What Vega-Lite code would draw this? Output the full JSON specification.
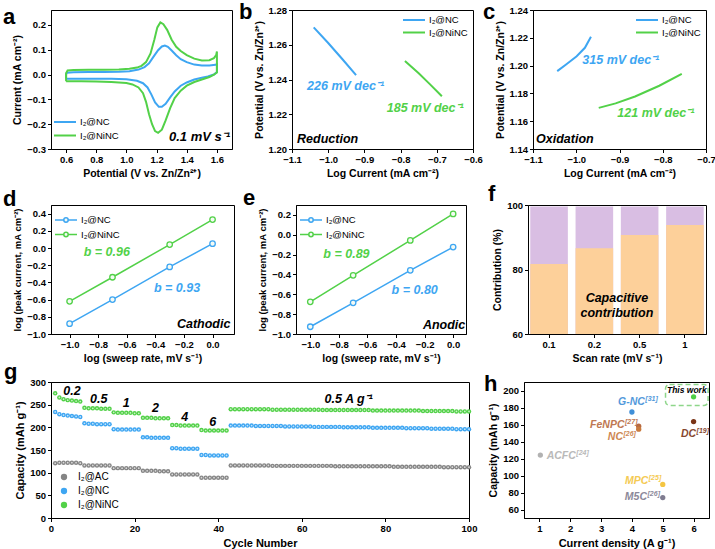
{
"$schema": "https://vega.github.io/schema/vega-lite/v6.json",
"background": "white",
"padding": {"left": 2, "top": 0, "right": 0, "bottom": 0},
"config": {
  "font": "Liberation Sans",
  "view": {"stroke": "black", "strokeWidth": 1},
  "axis": {"grid": false, "domainColor": "black", "tickColor": "black", "labelColor": "black", "titleColor": "black", "labelFontSize": 9.5, "labelFontWeight": "bold", "titleFontSize": 10.5, "titleFontWeight": "bold", "tickSize": 3.5, "labelPadding": 2, "labelFlush": false, "labelOverlap": false, "titlePadding": 4},
  "legend": {"labelFontSize": 9.5, "labelColor": "black", "padding": 0, "rowPadding": 3.5, "symbolStrokeWidth": 2},
  "title": {"anchor": "start", "frame": "group", "fontSize": 22, "fontWeight": "bold", "offset": 0, "baseline": "alphabetic", "color": "black"},
  "text": {"fontStyle": "italic", "fontWeight": "bold", "fontSize": 12.5}
},
"spacing": 3,
"resolve": {"scale": {"color": "independent"}, "legend": {"color": "independent"}},
"vconcat": [
{
"hconcat": [
{
 "title": {"text": "a", "dx": -48, "dy": 23},
 "width": 181, "height": 139,
 "encoding": {
  "x": {"field": "x", "type": "quantitative", "scale": {"domain": [0.5, 1.7], "nice": false, "zero": false}, "axis": {"values": [0.6, 0.8, 1.0, 1.2, 1.4, 1.6], "format": ".1f", "labelOverlap": false, "title": "Potential (V vs. Zn/Zn²⁺)"}},
  "y": {"field": "y", "type": "quantitative", "scale": {"domain": [-0.3, 0.26], "nice": false, "zero": false}, "axis": {"values": [-0.3, -0.2, -0.1, 0, 0.1, 0.2], "format": ".1f", "labelOverlap": false, "title": "Current (mA cm⁻²)"}}
 },
 "layer": [
  {"data": {"values": [
{"s":"I₂@NC","i":0,"x":0.6,"y":-0.017},{"s":"I₂@NC","i":1,"x":0.6,"y":0.0},{"s":"I₂@NC","i":2,"x":0.605,"y":0.007},{"s":"I₂@NC","i":3,"x":0.65,"y":0.009},{"s":"I₂@NC","i":4,"x":0.75,"y":0.01},{"s":"I₂@NC","i":5,"x":0.85,"y":0.01},{"s":"I₂@NC","i":6,"x":0.95,"y":0.011},{"s":"I₂@NC","i":7,"x":1.02,"y":0.013},{"s":"I₂@NC","i":8,"x":1.08,"y":0.02},{"s":"I₂@NC","i":9,"x":1.12,"y":0.03},{"s":"I₂@NC","i":10,"x":1.15,"y":0.045},{"s":"I₂@NC","i":11,"x":1.18,"y":0.072},{"s":"I₂@NC","i":12,"x":1.21,"y":0.098},{"s":"I₂@NC","i":13,"x":1.235,"y":0.113},{"s":"I₂@NC","i":14,"x":1.255,"y":0.117},{"s":"I₂@NC","i":15,"x":1.275,"y":0.112},{"s":"I₂@NC","i":16,"x":1.3,"y":0.097},{"s":"I₂@NC","i":17,"x":1.33,"y":0.078},{"s":"I₂@NC","i":18,"x":1.36,"y":0.062},{"s":"I₂@NC","i":19,"x":1.4,"y":0.05},{"s":"I₂@NC","i":20,"x":1.45,"y":0.04},{"s":"I₂@NC","i":21,"x":1.5,"y":0.036},{"s":"I₂@NC","i":22,"x":1.55,"y":0.036},{"s":"I₂@NC","i":23,"x":1.59,"y":0.039},{"s":"I₂@NC","i":24,"x":1.6,"y":0.042},{"s":"I₂@NC","i":25,"x":1.6,"y":0.01},{"s":"I₂@NC","i":26,"x":1.58,"y":0.0},{"s":"I₂@NC","i":27,"x":1.54,"y":-0.008},{"s":"I₂@NC","i":28,"x":1.5,"y":-0.013},{"s":"I₂@NC","i":29,"x":1.45,"y":-0.02},{"s":"I₂@NC","i":30,"x":1.4,"y":-0.032},{"s":"I₂@NC","i":31,"x":1.36,"y":-0.045},{"s":"I₂@NC","i":32,"x":1.32,"y":-0.068},{"s":"I₂@NC","i":33,"x":1.29,"y":-0.092},{"s":"I₂@NC","i":34,"x":1.26,"y":-0.118},{"s":"I₂@NC","i":35,"x":1.235,"y":-0.13},{"s":"I₂@NC","i":36,"x":1.215,"y":-0.13},{"s":"I₂@NC","i":37,"x":1.19,"y":-0.112},{"s":"I₂@NC","i":38,"x":1.165,"y":-0.08},{"s":"I₂@NC","i":39,"x":1.14,"y":-0.052},{"s":"I₂@NC","i":40,"x":1.11,"y":-0.035},{"s":"I₂@NC","i":41,"x":1.07,"y":-0.025},{"s":"I₂@NC","i":42,"x":1.0,"y":-0.019},{"s":"I₂@NC","i":43,"x":0.9,"y":-0.017},{"s":"I₂@NC","i":44,"x":0.8,"y":-0.017},{"s":"I₂@NC","i":45,"x":0.7,"y":-0.017},{"s":"I₂@NC","i":46,"x":0.6,"y":-0.017},
{"s":"I₂@NiNC","i":0,"x":0.6,"y":-0.027},{"s":"I₂@NiNC","i":1,"x":0.6,"y":0.005},{"s":"I₂@NiNC","i":2,"x":0.61,"y":0.016},{"s":"I₂@NiNC","i":3,"x":0.65,"y":0.018},{"s":"I₂@NiNC","i":4,"x":0.75,"y":0.019},{"s":"I₂@NiNC","i":5,"x":0.85,"y":0.019},{"s":"I₂@NiNC","i":6,"x":0.95,"y":0.02},{"s":"I₂@NiNC","i":7,"x":1.02,"y":0.023},{"s":"I₂@NiNC","i":8,"x":1.07,"y":0.028},{"s":"I₂@NiNC","i":9,"x":1.1,"y":0.035},{"s":"I₂@NiNC","i":10,"x":1.13,"y":0.05},{"s":"I₂@NiNC","i":11,"x":1.16,"y":0.085},{"s":"I₂@NiNC","i":12,"x":1.185,"y":0.14},{"s":"I₂@NiNC","i":13,"x":1.205,"y":0.19},{"s":"I₂@NiNC","i":14,"x":1.225,"y":0.21},{"s":"I₂@NiNC","i":15,"x":1.245,"y":0.203},{"s":"I₂@NiNC","i":16,"x":1.27,"y":0.18},{"s":"I₂@NiNC","i":17,"x":1.3,"y":0.14},{"s":"I₂@NiNC","i":18,"x":1.33,"y":0.112},{"s":"I₂@NiNC","i":19,"x":1.36,"y":0.095},{"s":"I₂@NiNC","i":20,"x":1.4,"y":0.078},{"s":"I₂@NiNC","i":21,"x":1.45,"y":0.064},{"s":"I₂@NiNC","i":22,"x":1.5,"y":0.057},{"s":"I₂@NiNC","i":23,"x":1.55,"y":0.058},{"s":"I₂@NiNC","i":24,"x":1.58,"y":0.066},{"s":"I₂@NiNC","i":25,"x":1.595,"y":0.078},{"s":"I₂@NiNC","i":26,"x":1.6,"y":0.093},{"s":"I₂@NiNC","i":27,"x":1.6,"y":0.008},{"s":"I₂@NiNC","i":28,"x":1.58,"y":0.0},{"s":"I₂@NiNC","i":29,"x":1.55,"y":-0.01},{"s":"I₂@NiNC","i":30,"x":1.5,"y":-0.02},{"s":"I₂@NiNC","i":31,"x":1.45,"y":-0.03},{"s":"I₂@NiNC","i":32,"x":1.4,"y":-0.045},{"s":"I₂@NiNC","i":33,"x":1.36,"y":-0.065},{"s":"I₂@NiNC","i":34,"x":1.32,"y":-0.095},{"s":"I₂@NiNC","i":35,"x":1.29,"y":-0.135},{"s":"I₂@NiNC","i":36,"x":1.26,"y":-0.185},{"s":"I₂@NiNC","i":37,"x":1.235,"y":-0.222},{"s":"I₂@NiNC","i":38,"x":1.21,"y":-0.235},{"s":"I₂@NiNC","i":39,"x":1.19,"y":-0.228},{"s":"I₂@NiNC","i":40,"x":1.17,"y":-0.2},{"s":"I₂@NiNC","i":41,"x":1.15,"y":-0.16},{"s":"I₂@NiNC","i":42,"x":1.13,"y":-0.11},{"s":"I₂@NiNC","i":43,"x":1.11,"y":-0.075},{"s":"I₂@NiNC","i":44,"x":1.08,"y":-0.052},{"s":"I₂@NiNC","i":45,"x":1.04,"y":-0.04},{"s":"I₂@NiNC","i":46,"x":1.0,"y":-0.034},{"s":"I₂@NiNC","i":47,"x":0.9,"y":-0.03},{"s":"I₂@NiNC","i":48,"x":0.8,"y":-0.028},{"s":"I₂@NiNC","i":49,"x":0.7,"y":-0.027},{"s":"I₂@NiNC","i":50,"x":0.6,"y":-0.027}
  ]},
   "mark": {"type": "line", "strokeWidth": 2},
   "encoding": {
    "color": {"field": "s", "type": "nominal", "scale": {"domain": ["I₂@NC", "I₂@NiNC"], "range": ["#3EA6F2", "#52D148"]}, "legend": {"title": null, "orient": "bottom-left", "offset": 9, "symbolType": "M-2.75,0H2.75", "symbolSize": 64, "labelOffset": 10}},
    "order": {"field": "i", "type": "quantitative"}
   }
  },
  {"data": {"values": [{"x": 1.687, "y": -0.269, "t": "0.1 mV s⁻¹"}]},
   "mark": {"type": "text", "align": "right", "baseline": "alphabetic", "fontSize": 13, "color": "black"},
   "encoding": {"text": {"field": "t"}}}
 ]
},
{
 "title": {"text": "b", "dx": -53, "dy": 23},
 "width": 181, "height": 139,
 "encoding": {
  "x": {"field": "x", "type": "quantitative", "scale": {"domain": [-1.1, -0.6], "nice": false, "zero": false}, "axis": {"values": [-1.1, -1.0, -0.9, -0.8, -0.7, -0.6], "format": ".1f", "labelOverlap": false, "title": "Log Current (mA cm⁻²)"}},
  "y": {"field": "y", "type": "quantitative", "scale": {"domain": [1.2, 1.28], "nice": false, "zero": false}, "axis": {"values": [1.2, 1.22, 1.24, 1.26, 1.28], "format": ".2f", "labelOverlap": false, "title": "Potential (V vs. Zn/Zn²⁺)"}}
 },
 "layer": [
  {"data": {"values": [
{"s":"I₂@NC","x":-1.04,"y":1.27},{"s":"I₂@NC","x":-1.0,"y":1.261},{"s":"I₂@NC","x":-0.96,"y":1.2515},{"s":"I₂@NC","x":-0.923,"y":1.2425},
{"s":"I₂@NiNC","x":-0.788,"y":1.2506},{"s":"I₂@NiNC","x":-0.75,"y":1.2436},{"s":"I₂@NiNC","x":-0.72,"y":1.2375},{"s":"I₂@NiNC","x":-0.686,"y":1.2304}
  ]},
   "mark": {"type": "line", "strokeWidth": 2},
   "encoding": {
    "color": {"field": "s", "type": "nominal", "scale": {"domain": ["I₂@NC", "I₂@NiNC"], "range": ["#3EA6F2", "#52D148"]}, "legend": {"title": null, "orient": "top-right", "offset": 5, "symbolType": "M-2.75,0H2.75", "symbolSize": 64, "labelOffset": 10, "rowPadding": 2.5}}
   }
  },
  {"data": {"values": [{"x": -0.952, "y": 1.2363, "t": "226 mV dec⁻¹"}]}, "mark": {"type": "text", "baseline": "middle", "color": "#3EA6F2"}, "encoding": {"text": {"field": "t"}}},
  {"data": {"values": [{"x": -0.732, "y": 1.2238, "t": "185 mV dec⁻¹"}]}, "mark": {"type": "text", "baseline": "middle", "color": "#52D148"}, "encoding": {"text": {"field": "t"}}},
  {"data": {"values": [{"x": -1.086, "y": 1.2055, "t": "Reduction"}]}, "mark": {"type": "text", "align": "left", "baseline": "middle", "color": "black"}, "encoding": {"text": {"field": "t"}}}
 ]
},
{
 "title": {"text": "c", "dx": -50, "dy": 23},
 "width": 173, "height": 139,
 "encoding": {
  "x": {"field": "x", "type": "quantitative", "scale": {"domain": [-1.1, -0.7], "nice": false, "zero": false}, "axis": {"values": [-1.1, -1.0, -0.9, -0.8, -0.7], "format": ".1f", "labelOverlap": false, "title": "Log Current (mA cm⁻²)"}},
  "y": {"field": "y", "type": "quantitative", "scale": {"domain": [1.14, 1.24], "nice": false, "zero": false}, "axis": {"values": [1.14, 1.16, 1.18, 1.2, 1.22, 1.24], "format": ".2f", "labelOverlap": false, "title": "Potential (V vs. Zn/Zn²⁺)"}}
 },
 "layer": [
  {"data": {"values": [
{"s":"I₂@NC","x":-1.044,"y":1.196},{"s":"I₂@NC","x":-1.022,"y":1.2012},{"s":"I₂@NC","x":-0.999,"y":1.2067},{"s":"I₂@NC","x":-0.98,"y":1.2128},{"s":"I₂@NC","x":-0.966,"y":1.2207},
{"s":"I₂@NiNC","x":-0.948,"y":1.1696},{"s":"I₂@NiNC","x":-0.909,"y":1.1728},{"s":"I₂@NiNC","x":-0.864,"y":1.1778},{"s":"I₂@NiNC","x":-0.808,"y":1.1855},{"s":"I₂@NiNC","x":-0.756,"y":1.194}
  ]},
   "mark": {"type": "line", "strokeWidth": 2},
   "encoding": {
    "color": {"field": "s", "type": "nominal", "scale": {"domain": ["I₂@NC", "I₂@NiNC"], "range": ["#3EA6F2", "#52D148"]}, "legend": {"title": null, "orient": "top-right", "offset": 5, "symbolType": "M-2.75,0H2.75", "symbolSize": 64, "labelOffset": 10, "rowPadding": 2.5}}
   }
  },
  {"data": {"values": [{"x": -0.897, "y": 1.204, "t": "315 mV dec⁻¹"}]}, "mark": {"type": "text", "baseline": "middle", "color": "#3EA6F2"}, "encoding": {"text": {"field": "t"}}},
  {"data": {"values": [{"x": -0.816, "y": 1.166, "t": "121 mV dec⁻¹"}]}, "mark": {"type": "text", "baseline": "middle", "color": "#52D148"}, "encoding": {"text": {"field": "t"}}},
  {"data": {"values": [{"x": -1.093, "y": 1.147, "t": "Oxidation"}]}, "mark": {"type": "text", "align": "left", "baseline": "middle", "color": "black"}, "encoding": {"text": {"field": "t"}}}
 ]
}
],
"spacing": 60, "bounds": "flush",
"resolve": {"scale": {"color": "independent"}, "legend": {"color": "independent"}}
},
{
"vconcat": [
{
"hconcat": [
{
 "title": {"text": "d", "dx": -48, "dy": 10},
 "width": 183, "height": 129,
 "data": {"values": [
{"s":"I₂@NC","x":-1.0,"y":-0.88},{"s":"I₂@NC","x":-0.7,"y":-0.6},{"s":"I₂@NC","x":-0.3,"y":-0.22},{"s":"I₂@NC","x":0.0,"y":0.05},
{"s":"I₂@NiNC","x":-1.0,"y":-0.62},{"s":"I₂@NiNC","x":-0.7,"y":-0.34},{"s":"I₂@NiNC","x":-0.3,"y":0.04},{"s":"I₂@NiNC","x":0.0,"y":0.33}
 ]},
 "encoding": {
  "x": {"field": "x", "type": "quantitative", "scale": {"domain": [-1.13, 0.15], "nice": false, "zero": false}, "axis": {"values": [-1.0, -0.8, -0.6, -0.4, -0.2, 0.0], "format": ".1f", "labelOverlap": false, "title": "log (sweep rate, mV s⁻¹)"}},
  "y": {"field": "y", "type": "quantitative", "scale": {"domain": [-1.0, 0.5], "nice": false, "zero": false}, "axis": {"values": [-1.0, -0.8, -0.6, -0.4, -0.2, 0.0, 0.2, 0.4], "format": ".1f", "labelOverlap": false, "title": "log (peak current, mA cm⁻²)", "titleFontSize": 9.5}}
 },
 "layer": [
  {"mark": {"type": "line", "strokeWidth": 1.5},
   "encoding": {"color": {"field": "s", "type": "nominal", "scale": {"domain": ["I₂@NC", "I₂@NiNC"], "range": ["#3EA6F2", "#52D148"]}, "legend": {"title": null, "orient": "top-left", "offset": 10, "symbolType": "M-2.75,0H-0.55M0.55,0H2.75M0.55,0A0.55,0.55,0,1,1,-0.55,0A0.55,0.55,0,1,1,0.55,0", "symbolSize": 64, "symbolStrokeWidth": 1.5, "symbolFillColor": "white", "labelOffset": 10, "rowPadding": 2.5}}}},
  {"mark": {"type": "point", "shape": "circle", "size": 30, "strokeWidth": 1.3, "fill": "#F4FAF4", "fillOpacity": 1, "filled": false},
   "encoding": {"color": {"field": "s", "type": "nominal"}}},
  {"data": {"values": [{"x": -0.74, "y": -0.05, "t": "b = 0.96"}]}, "mark": {"type": "text", "baseline": "middle", "color": "#52D148"}, "encoding": {"text": {"field": "t"}}},
  {"data": {"values": [{"x": -0.248, "y": -0.467, "t": "b = 0.93"}]}, "mark": {"type": "text", "baseline": "middle", "color": "#3EA6F2"}, "encoding": {"text": {"field": "t"}}},
  {"data": {"values": [{"x": 0.125, "y": -0.88, "t": "Cathodic"}]}, "mark": {"type": "text", "align": "right", "baseline": "middle", "color": "black"}, "encoding": {"text": {"field": "t"}}}
 ]
},
{
 "title": {"text": "e", "dx": -53, "dy": 9},
 "width": 170, "height": 129,
 "data": {"values": [
{"s":"I₂@NC","x":-1.0,"y":-0.927},{"s":"I₂@NC","x":-0.7,"y":-0.686},{"s":"I₂@NC","x":-0.3,"y":-0.358},{"s":"I₂@NC","x":0.0,"y":-0.124},
{"s":"I₂@NiNC","x":-1.0,"y":-0.676},{"s":"I₂@NiNC","x":-0.7,"y":-0.409},{"s":"I₂@NiNC","x":-0.3,"y":-0.057},{"s":"I₂@NiNC","x":0.0,"y":0.21}
 ]},
 "encoding": {
  "x": {"field": "x", "type": "quantitative", "scale": {"domain": [-1.1, 0.09], "nice": false, "zero": false}, "axis": {"values": [-1.0, -0.8, -0.6, -0.4, -0.2, 0.0], "format": ".1f", "labelOverlap": false, "title": "log (sweep rate, mV s⁻¹)"}},
  "y": {"field": "y", "type": "quantitative", "scale": {"domain": [-1.0, 0.3], "nice": false, "zero": false}, "axis": {"values": [-1.0, -0.8, -0.6, -0.4, -0.2, 0.0, 0.2], "format": ".1f", "labelOverlap": false, "title": "log (peak current, mA cm⁻²)", "titleFontSize": 9.5}}
 },
 "layer": [
  {"mark": {"type": "line", "strokeWidth": 1.5},
   "encoding": {"color": {"field": "s", "type": "nominal", "scale": {"domain": ["I₂@NC", "I₂@NiNC"], "range": ["#3EA6F2", "#52D148"]}, "legend": {"title": null, "orient": "top-left", "offset": 10, "symbolType": "M-2.75,0H-0.55M0.55,0H2.75M0.55,0A0.55,0.55,0,1,1,-0.55,0A0.55,0.55,0,1,1,0.55,0", "symbolSize": 64, "symbolStrokeWidth": 1.5, "symbolFillColor": "white", "labelOffset": 10, "rowPadding": 2.5}}}},
  {"mark": {"type": "point", "shape": "circle", "size": 30, "strokeWidth": 1.3, "fill": "#F4FAF4", "fillOpacity": 1, "filled": false},
   "encoding": {"color": {"field": "s", "type": "nominal"}}},
  {"data": {"values": [{"x": -0.747, "y": -0.198, "t": "b = 0.89"}]}, "mark": {"type": "text", "baseline": "middle", "color": "#52D148"}, "encoding": {"text": {"field": "t"}}},
  {"data": {"values": [{"x": -0.269, "y": -0.552, "t": "b = 0.80"}]}, "mark": {"type": "text", "baseline": "middle", "color": "#3EA6F2"}, "encoding": {"text": {"field": "t"}}},
  {"data": {"values": [{"x": 0.085, "y": -0.911, "t": "Anodic"}]}, "mark": {"type": "text", "align": "right", "baseline": "middle", "color": "black"}, "encoding": {"text": {"field": "t"}}}
 ]
},
{
 "title": {"text": "f", "dx": -40, "dy": 10},
 "width": 178, "height": 129,
 "encoding": {
  "x": {"field": "r", "type": "ordinal", "sort": ["0.1", "0.2", "0.5", "1"], "scale": {"paddingInner": 0.17, "paddingOuter": 0.05}, "axis": {"title": "Scan rate (mV s⁻¹)", "labelAngle": 0, "labelOverlap": false}},
  "y": {"field": "y", "type": "quantitative", "scale": {"domain": [60, 100], "nice": false, "zero": false}, "axis": {"values": [60, 80, 100], "labelOverlap": false, "title": "Contribution (%)"}}
 },
 "layer": [
  {"data": {"values": [{"r":"0.1","y":99.5},{"r":"0.2","y":99.5},{"r":"0.5","y":99.5},{"r":"1","y":99.5}]},
   "mark": {"type": "bar", "color": "#D9BEE3"}, "encoding": {"y2": {"datum": 60}}},
  {"data": {"values": [{"r":"0.1","y":81.7},{"r":"0.2","y":86.6},{"r":"0.5","y":90.7},{"r":"1","y":93.8}]},
   "mark": {"type": "bar", "color": "#FDD09A"}, "encoding": {"y2": {"datum": 60}}},
  {"data": {"values": [{"r": "0.2", "y": 69.8, "t": "Capacitive"}, {"r": "0.2", "y": 65.2, "t": "contribution"}]},
   "mark": {"type": "text", "align": "center", "baseline": "alphabetic", "color": "black"},
   "encoding": {"x": {"field": "r", "type": "ordinal", "sort": ["0.1", "0.2", "0.5", "1"], "bandPosition": 1.1}, "text": {"field": "t"}}}
 ]
}
],
"spacing": 62, "bounds": "flush",
"resolve": {"scale": {"color": "independent"}, "legend": {"color": "independent"}}
},
{
"hconcat": [
{
 "title": {"text": "g", "dx": -47, "dy": 11},
 "width": 418, "height": 136,
 "encoding": {
  "x": {"field": "n", "type": "quantitative", "scale": {"domain": [0, 100], "nice": false, "zero": false}, "axis": {"values": [0, 20, 40, 60, 80, 100], "labelOverlap": false, "title": "Cycle Number", "titleFontSize": 11}},
  "y": {"field": "cap", "type": "quantitative", "scale": {"domain": [0, 300], "nice": false}, "axis": {"values": [0, 50, 100, 150, 200, 250, 300], "labelOverlap": false, "title": "Capacity (mAh g⁻¹)", "titleFontSize": 11}}
 },
 "layer": [
  {"data": {"values": [
{"n":1,"AC":121,"NC":234,"NiNC":275},{"n":2,"AC":122,"NC":229,"NiNC":266},{"n":3,"AC":122,"NC":227,"NiNC":262},{"n":4,"AC":122,"NC":226,"NiNC":260},{"n":5,"AC":122,"NC":225,"NiNC":259},{"n":6,"AC":122,"NC":224,"NiNC":258},{"n":7,"AC":121,"NC":223,"NiNC":257},
{"n":8,"AC":116,"NC":209,"NiNC":243},{"n":9,"AC":116,"NC":208,"NiNC":242},{"n":10,"AC":116,"NC":208,"NiNC":242},{"n":11,"AC":116,"NC":207,"NiNC":242},{"n":12,"AC":116,"NC":207,"NiNC":241},{"n":13,"AC":116,"NC":207,"NiNC":241},{"n":14,"AC":116,"NC":207,"NiNC":241},
{"n":15,"AC":110,"NC":196,"NiNC":233},{"n":16,"AC":110,"NC":195,"NiNC":232},{"n":17,"AC":110,"NC":195,"NiNC":232},{"n":18,"AC":110,"NC":195,"NiNC":232},{"n":19,"AC":110,"NC":195,"NiNC":232},{"n":20,"AC":110,"NC":195,"NiNC":231},{"n":21,"AC":110,"NC":195,"NiNC":231},
{"n":22,"AC":104,"NC":178,"NiNC":221},{"n":23,"AC":104,"NC":178,"NiNC":221},{"n":24,"AC":104,"NC":177,"NiNC":221},{"n":25,"AC":104,"NC":177,"NiNC":220},{"n":26,"AC":103,"NC":177,"NiNC":220},{"n":27,"AC":103,"NC":177,"NiNC":220},{"n":28,"AC":103,"NC":177,"NiNC":220},
{"n":29,"AC":96,"NC":154,"NiNC":205},{"n":30,"AC":96,"NC":154,"NiNC":205},{"n":31,"AC":96,"NC":153,"NiNC":204},{"n":32,"AC":96,"NC":153,"NiNC":204},{"n":33,"AC":96,"NC":153,"NiNC":204},{"n":34,"AC":96,"NC":153,"NiNC":204},{"n":35,"AC":96,"NC":153,"NiNC":204},
{"n":36,"AC":89,"NC":139,"NiNC":194},{"n":37,"AC":89,"NC":139,"NiNC":193},{"n":38,"AC":89,"NC":138,"NiNC":193},{"n":39,"AC":89,"NC":138,"NiNC":193},{"n":40,"AC":89,"NC":138,"NiNC":193},{"n":41,"AC":89,"NC":138,"NiNC":193},{"n":42,"AC":89,"NC":138,"NiNC":193},
{"n":43,"AC":116,"NC":204,"NiNC":240},{"n":44,"AC":116,"NC":204,"NiNC":240},{"n":45,"AC":116,"NC":204,"NiNC":240},{"n":46,"AC":116,"NC":204,"NiNC":240},{"n":47,"AC":116,"NC":204,"NiNC":240},{"n":48,"AC":116,"NC":204,"NiNC":240},{"n":49,"AC":116,"NC":203,"NiNC":240},{"n":50,"AC":116,"NC":203,"NiNC":240},
{"n":51,"AC":116,"NC":203,"NiNC":240},{"n":52,"AC":116,"NC":203,"NiNC":240},{"n":53,"AC":115,"NC":203,"NiNC":239},{"n":54,"AC":115,"NC":203,"NiNC":239},{"n":55,"AC":115,"NC":203,"NiNC":239},{"n":56,"AC":115,"NC":202,"NiNC":239},{"n":57,"AC":115,"NC":202,"NiNC":239},{"n":58,"AC":115,"NC":202,"NiNC":239},{"n":59,"AC":115,"NC":202,"NiNC":239},{"n":60,"AC":115,"NC":202,"NiNC":239},
{"n":61,"AC":115,"NC":202,"NiNC":239},{"n":62,"AC":115,"NC":202,"NiNC":239},{"n":63,"AC":115,"NC":201,"NiNC":239},{"n":64,"AC":115,"NC":201,"NiNC":239},{"n":65,"AC":115,"NC":201,"NiNC":238},{"n":66,"AC":115,"NC":201,"NiNC":238},{"n":67,"AC":115,"NC":201,"NiNC":238},{"n":68,"AC":114,"NC":201,"NiNC":238},{"n":69,"AC":114,"NC":201,"NiNC":238},{"n":70,"AC":114,"NC":200,"NiNC":238},
{"n":71,"AC":114,"NC":200,"NiNC":238},{"n":72,"AC":114,"NC":200,"NiNC":238},{"n":73,"AC":114,"NC":200,"NiNC":238},{"n":74,"AC":114,"NC":200,"NiNC":238},{"n":75,"AC":114,"NC":200,"NiNC":238},{"n":76,"AC":114,"NC":200,"NiNC":238},{"n":77,"AC":114,"NC":199,"NiNC":237},{"n":78,"AC":114,"NC":199,"NiNC":237},{"n":79,"AC":114,"NC":199,"NiNC":237},{"n":80,"AC":114,"NC":199,"NiNC":237},
{"n":81,"AC":114,"NC":199,"NiNC":237},{"n":82,"AC":113,"NC":199,"NiNC":237},{"n":83,"AC":113,"NC":199,"NiNC":237},{"n":84,"AC":113,"NC":199,"NiNC":237},{"n":85,"AC":113,"NC":198,"NiNC":237},{"n":86,"AC":113,"NC":198,"NiNC":237},{"n":87,"AC":113,"NC":198,"NiNC":237},{"n":88,"AC":113,"NC":198,"NiNC":237},{"n":89,"AC":113,"NC":198,"NiNC":236},{"n":90,"AC":113,"NC":198,"NiNC":236},
{"n":91,"AC":113,"NC":197,"NiNC":236},{"n":92,"AC":113,"NC":197,"NiNC":236},{"n":93,"AC":113,"NC":197,"NiNC":236},{"n":94,"AC":112,"NC":197,"NiNC":236},{"n":95,"AC":112,"NC":197,"NiNC":236},{"n":96,"AC":112,"NC":197,"NiNC":236},{"n":97,"AC":112,"NC":196,"NiNC":235},{"n":98,"AC":112,"NC":196,"NiNC":235},{"n":99,"AC":112,"NC":196,"NiNC":235},{"n":100,"AC":112,"NC":196,"NiNC":235}
  ]},
   "transform": [{"fold": ["AC", "NC", "NiNC"], "as": ["s", "cap"]}],
   "layer": [
    {"mark": {"type": "point", "shape": "circle", "filled": true, "size": 20, "opacity": 1},
     "encoding": {"color": {"field": "s", "type": "nominal", "scale": {"domain": ["AC", "NC", "NiNC"], "range": ["#858585", "#3EA6F2", "#52D148"]}, "legend": {"title": null, "orient": "bottom-left", "offset": 8, "symbolType": "circle", "symbolSize": 40, "labelOffset": 9, "labelFontSize": 10, "rowPadding": 4, "labelExpr": "'I₂@' + datum.label"}}}},
    {"mark": {"type": "point", "shape": "circle", "filled": true, "size": 3, "color": "white", "opacity": 0.7}}
   ]
  },
  {"data": {"values": [{"n": 5, "cap": 281, "t": "0.2"}, {"n": 11.4, "cap": 263, "t": "0.5"}, {"n": 18, "cap": 254, "t": "1"}, {"n": 25, "cap": 242.5, "t": "2"}, {"n": 32, "cap": 223, "t": "4"}, {"n": 38.7, "cap": 212.7, "t": "6"}, {"n": 71.2, "cap": 263, "t": "0.5 A g⁻¹"}]},
   "mark": {"type": "text", "baseline": "middle", "color": "black"},
   "encoding": {"text": {"field": "t"}}}
 ]
},
{
 "title": {"text": "h", "dx": -40, "dy": 18},
 "width": 185, "height": 136,
 "encoding": {
  "x": {"field": "x", "type": "quantitative", "scale": {"domain": [0.5, 6.5], "nice": false, "zero": false}, "axis": {"values": [1, 2, 3, 4, 5, 6], "format": "d", "labelOverlap": false, "title": "Current density (A g⁻¹)", "titleFontSize": 11}},
  "y": {"field": "y", "type": "quantitative", "scale": {"domain": [50, 210], "nice": false, "zero": false}, "axis": {"values": [60, 80, 100, 120, 140, 160, 180, 200], "labelOverlap": false, "title": "Capacity (mAh g⁻¹)"}}
 },
 "layer": [
  {"data": {"values": [{"x": 5.09, "x2": 6.47, "y": 182.5, "y2": 207}]},
   "mark": {"type": "rect", "fill": null, "stroke": "#8ED68A", "strokeWidth": 1.5, "strokeDash": [5, 3], "cornerRadius": 4},
   "encoding": {"x2": {"field": "x2"}, "y2": {"field": "y2"}}},
  {"data": {"values": [
{"m":"ACFC","x":1.03,"y":124},{"m":"G-NC","x":4.0,"y":174.7},{"m":"FeNPC","x":4.22,"y":158},{"m":"NC","x":4.22,"y":154.5},{"m":"DC","x":6.0,"y":163.5},{"m":"MPC","x":5.0,"y":89.5},{"m":"M5C","x":5.0,"y":74},{"m":"This work","x":6.0,"y":192.6}
  ]},
   "mark": {"type": "point", "shape": "circle", "filled": true, "size": 28, "opacity": 1},
   "encoding": {"color": {"field": "m", "type": "nominal", "scale": {"domain": ["ACFC", "G-NC", "FeNPC", "NC", "DC", "MPC", "M5C", "This work"], "range": ["#B2B2B2", "#3F8FD8", "#B86A40", "#C97B3F", "#7A3416", "#F4C542", "#7F7C90", "#4ECF45"]}, "legend": null}}},
  {"data": {"values": [
{"m":"ACFC","s":"[24]","x":2.18,"y":119.8},{"m":"G-NC","s":"[31]","x":4.42,"y":182.9},{"m":"FeNPC","s":"[27]","x":3.76,"y":155.6},{"m":"NC","s":"[26]","x":3.71,"y":141.6},{"m":"DC","s":"[19]","x":6.08,"y":145.5},{"m":"MPC","s":"[25]","x":4.53,"y":89.5},{"m":"M5C","s":"[26]","x":4.49,"y":70.8}
  ]},
   "encoding": {"color": {"field": "m", "type": "nominal", "legend": null}},
   "layer": [
    {"mark": {"type": "text", "align": "right", "baseline": "alphabetic", "fontSize": 10.5, "opacity": 0.9}, "encoding": {"text": {"field": "m"}}},
    {"mark": {"type": "text", "align": "left", "baseline": "alphabetic", "fontSize": 7, "dy": -4, "dx": 0.5, "opacity": 0.9}, "encoding": {"text": {"field": "s"}}}
   ]},
  {"data": {"values": [{"x": 5.78, "y": 197.3, "t": "This work"}]},
   "mark": {"type": "text", "baseline": "alphabetic", "fontSize": 8.5, "color": "black"},
   "encoding": {"text": {"field": "t"}}}
 ]
}
],
"spacing": 55, "bounds": "flush",
"resolve": {"scale": {"color": "independent"}, "legend": {"color": "independent"}}
}
],
"spacing": -4,
"resolve": {"scale": {"color": "independent"}, "legend": {"color": "independent"}}
}
]
}
